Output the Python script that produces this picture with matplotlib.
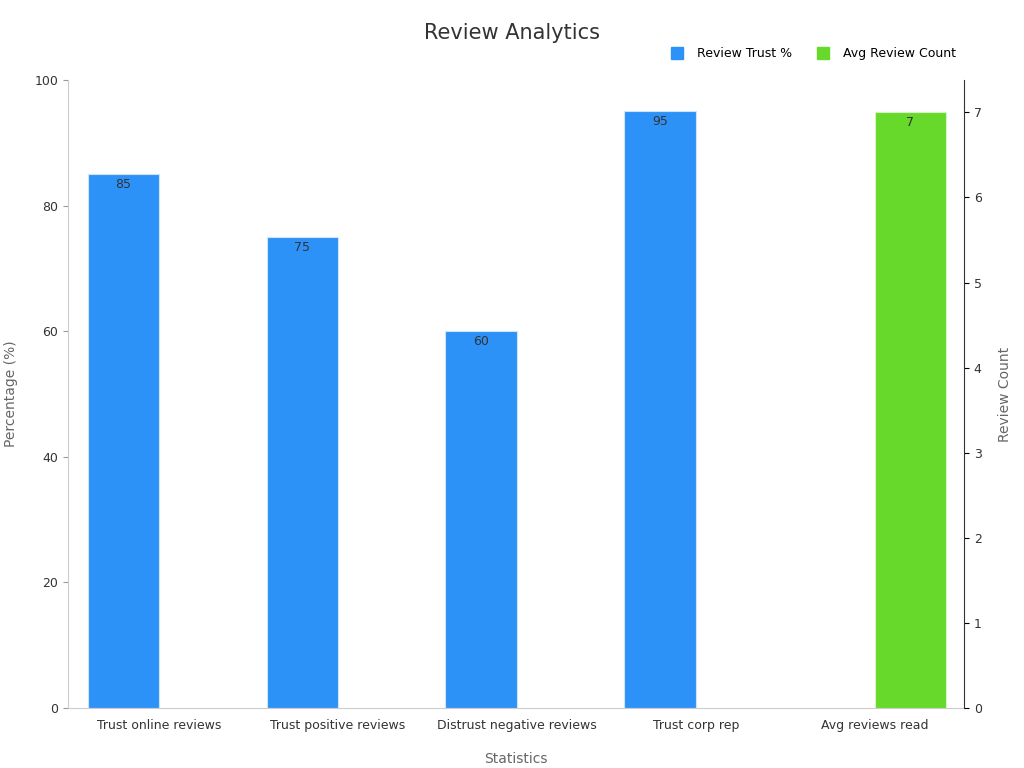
import matplotlib.pyplot as plt
import numpy as np

CATEGORIES = ["Trust online reviews", "Trust positive reviews", "Distrust negative reviews",
              "Trust corp rep", "Avg reviews read"]
TRUST_PCT = [85, 75, 60, 95, None]
REVIEW_COUNT = [None, None, None, None, 7]

BLUE = "#2d92f8"
GREEN = "#66d92a"
TEXT = "#333333"

fig = plt.figure(figsize=(10.24, 7.68), dpi=100)
ax = fig.add_axes([68 / 1024, 60 / 768, 896 / 1024, 628 / 768])
ax2 = ax.twinx()

x = np.arange(len(CATEGORIES))
w = 0.4
for i, v in enumerate(TRUST_PCT):
    if v is not None:
        ax.bar(x[i] - w / 2, v, w, color=BLUE, edgecolor="#cfe3fb", linewidth=0.8)
        ax.text(x[i] - w / 2, v - 0.6, f"{v}", ha="center", va="top", fontsize=9, color=TEXT)
for i, v in enumerate(REVIEW_COUNT):
    if v is not None:
        ax2.bar(x[i] + w / 2, v, w, color=GREEN, edgecolor="#d6f3c6", linewidth=0.8)
        ax2.text(x[i] + w / 2, v - 0.04, f"{v}", ha="center", va="top", fontsize=9, color=TEXT)

ax.set_xlim(-0.51, 4.5)
ax.set_ylim(0, 100)
ax2.set_ylim(0, 7.38)
ax.set_xticks(x)
ax.set_xticklabels(CATEGORIES, fontsize=9, color=TEXT)
ax.tick_params(axis="y", labelsize=9, labelcolor=TEXT, color="#999999")
ax.tick_params(axis="x", length=0, pad=8)
ax2.tick_params(axis="y", labelsize=9, labelcolor=TEXT)
ax.set_ylabel("Percentage (%)", fontsize=10, color="#666666", labelpad=12)
ax2.set_ylabel("Review Count", fontsize=10, color="#666666", labelpad=12)
ax.set_xlabel("Statistics", fontsize=10, color="#666666", labelpad=14)

for a in (ax, ax2):
    a.spines["top"].set_visible(False)
ax.spines["right"].set_visible(False)
ax.spines["left"].set_color("#cccccc")
ax.spines["bottom"].set_color("#cccccc")
ax2.spines["left"].set_visible(False)
ax2.spines["bottom"].set_visible(False)
ax2.spines["right"].set_color("#333333")

fig.text(0.5, 0.957, "Review Analytics", ha="center", va="center", fontsize=15, color=TEXT)
handles = [plt.Line2D([], [], marker="s", ls="", color=BLUE, markersize=8),
           plt.Line2D([], [], marker="s", ls="", color=GREEN, markersize=8)]
fig.legend(handles, ["Review Trust %", "Avg Review Count"], loc="center right",
           bbox_to_anchor=(0.945, 0.93), ncol=2, frameon=False, fontsize=9,
           handletextpad=0.6, columnspacing=1.5)

fig.savefig("out.png", dpi=100)
